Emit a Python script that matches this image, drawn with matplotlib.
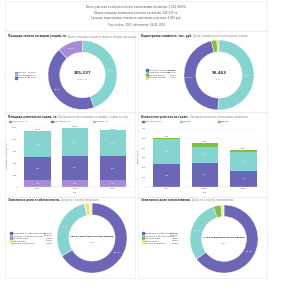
import matplotlib
matplotlib.use("Agg")
import matplotlib.pyplot as plt
import numpy as np
from matplotlib.patches import Rectangle

W, H = 295, 300

# colours
TEAL = "#85d4d0"
PURPLE = "#6b66b6"
LILAC = "#a88bd5"
GREEN = "#7fbf4c"
YELLOW = "#efe27c"
PALE = "#f6f0c4"

# header
header_lines = [
    "Всего участков в собственности и пользовании хозяйства: 1 234 (100%)",
    "Общая площадь земельных участков хозяйства: 205,237 га",
    "Средняя кадастровая стоимость земельных участков: 4 453 руб.",
    "Год отчёта: 2023, обновлено: 28.02.2024",
]

# donut 1
d1_title = "Площадь земель по видам угодий, га."
d1_sub = "Доля площади каждого вида в общей площади"
d1_labels = ["Пашня", "Пастбища", "Сенокосы"]
d1_values = [44.6, 43.4, 12.0]
d1_total = "205,237"

# donut 2
d2_title = "Кадастровая стоимость, тыс. руб."
d2_sub = "Доля стоимости по категориям земель"
d2_labels = ["Сельхоз. назначения", "Земли поселений", "Лесной фонд", "Прочие земли"]
d2_values = [50.5, 46.0, 2.5, 1.0]
d2_total = "95,463"

# bars 1
b1_title = "Площадь участков по годам, га."
b1_sub = "Распределение площади по видам угодий за год"
b1_legend = ["Сенокосы, га", "Пастбища, га", "Пашня, га"]
years = ["2021", "2022", "2023"]
b1_lilac = [148, 148, 148]
b1_purple = [480, 501, 494]
b1_teal = [544, 586, 544]

# bars 2
b2_title = "Количество участков по годам."
b2_sub = "Распределение по категориям владения"
b2_legend = ["Собственность", "Аренда", "Прочее"]
b2_purple = [240, 250, 170]
b2_teal = [255, 165, 195]
b2_green = [15, 40, 20]

# donut 3
d3_title = "Земельные доли в собственности."
d3_sub = "Доля по способу владения"
d3_labels = ["Владение в собственности", "Аренда у собственников",
             "Пользование", "Субаренда", "Прочее владение"]
d3_values = [66.4, 30.0, 0.3, 2.0, 1.3]
d3_total = "735,51 земледельческих единиц"

# donut 4
d4_title = "Земельные доли в пользовании."
d4_sub = "Доля по способу пользования"
d4_labels = ["Владение в собственности", "Аренда у собственников",
             "Пользование", "Субаренда", "Прочее владение"]
d4_values = [65.0, 30.0, 3.5, 1.0, 0.5]
d4_total = "4 453 земледельческих единиц"

fig = plt.figure(figsize=(W / 100, H / 100), dpi=100)
fig.patch.set_facecolor("white")
renderer = fig.canvas.get_renderer()


def fx(x):
    return x / W


def fy(y):
    return 1 - y / H


def rect(x0, y0, x1, y1):
    return [x0 / W, 1 - y1 / H, (x1 - x0) / W, (y1 - y0) / H]


def panel(x0, y0, x1, y1):
    fig.patches.append(Rectangle((fx(x0), fy(y1)), (x1 - x0) / W, (y1 - y0) / H,
                                 transform=fig.transFigure, fill=False,
                                 edgecolor="#ececec", linewidth=0.5))


def title(x, y, bold, rest):
    t = fig.text(fx(x), fy(y), bold, fontsize=1.9, fontweight="bold", color="#333333", va="center")
    w = t.get_window_extent(renderer).width
    fig.text(fx(x + w + 1), fy(y), rest, fontsize=1.9, color="#888888", va="center")


def donut(cx, cy, r, values, colors, total, sub, big=2.8):
    ax = fig.add_axes(rect(cx - r, cy - r, cx + r, cy + r))
    wedges, _ = ax.pie(values, colors=colors, startangle=90, counterclock=False,
                       radius=1.0, wedgeprops=dict(width=0.34, edgecolor="white", linewidth=0.3))
    ax.set_xlim(-1, 1)
    ax.set_ylim(-1, 1)
    ax.set_aspect("equal")
    ax.axis("off")
    for w, v in zip(wedges, values):
        if v < 5:
            continue
        ang = np.deg2rad((w.theta1 + w.theta2) / 2)
        ax.text(0.83 * np.cos(ang), 0.83 * np.sin(ang), f"{v:.1f}%",
                fontsize=1.7, color="white", ha="center", va="center")
    ax.text(0, 0.05, total, fontsize=big, fontweight="bold", color="#333333", ha="center", va="center")
    ax.text(0, -0.12, sub, fontsize=1.5, color="#888888", ha="center", va="center")


def legend(x, y, labels, values, colors, valx, dy=2.6, fs=1.7):
    for i, (lab, v, c) in enumerate(zip(labels, values, colors)):
        yy = y + i * dy
        fig.patches.append(Rectangle((fx(x), fy(yy + 0.8)), 1.6 / W, 1.6 / H,
                                     transform=fig.transFigure, color=c))
        fig.text(fx(x + 2.5), fy(yy), lab, fontsize=fs, color="#444444", va="center")
        fig.text(fx(valx), fy(yy), f"{v:.2f}%", fontsize=fs, color="#444444", va="center", ha="right")


def bars(x0, y0, x1, y1, stacks, ymax, step, ylabel):
    ax = fig.add_axes(rect(x0, y0, x1, y1))
    x = np.arange(len(years))
    bottom = np.zeros(len(years))
    for vals, c in stacks:
        vals = np.array(vals, dtype=float)
        ax.bar(x, vals, 0.7, bottom=bottom, color=c, linewidth=0)
        for xi, b, v in zip(x, bottom, vals):
            if v > ymax * 0.08:
                ax.text(xi, b + v / 2, f"{int(v)}", fontsize=1.5, color="white", ha="center", va="center")
        bottom = bottom + vals
    for xi, t in zip(x, bottom):
        ax.text(xi, t + ymax * 0.015, f"{int(t):,}", fontsize=1.5, color="#555555", ha="center", va="bottom")
    ax.set_xlim(-0.5, 2.5)
    ax.set_ylim(0, ymax)
    ticks = np.arange(0, ymax, step)
    ax.set_yticks(ticks)
    ax.set_yticklabels([f"{int(t):,}" for t in ticks])
    ax.set_xticks(x)
    ax.set_xticklabels(years)
    ax.tick_params(labelsize=1.6, length=0, pad=1, colors="#666666")
    ax.grid(axis="y", color="#f2f2f2", linewidth=0.3)
    ax.set_axisbelow(True)
    for s in ax.spines.values():
        s.set_visible(False)
    ax.spines["bottom"].set_visible(True)
    ax.spines["bottom"].set_color("#dddddd")
    ax.spines["bottom"].set_linewidth(0.3)
    ax.set_xlabel("Год", fontsize=1.6, color="#666666", labelpad=1.5)
    ax.set_ylabel(ylabel, fontsize=1.6, color="#666666", labelpad=2)
    return ax


def bar_legend(x, y, labels, colors, gap):
    for i, (lab, c) in enumerate(zip(labels, colors)):
        xx = x + i * gap
        fig.patches.append(Rectangle((fx(xx), fy(y + 0.8)), 1.6 / W, 1.6 / H,
                                     transform=fig.transFigure, color=c))
        fig.text(fx(xx + 2.5), fy(y), lab, fontsize=1.6, color="#555555", va="center")


# panels
panel(5, 1, 267, 31)
panel(5, 31, 135, 112)
panel(138, 31, 267, 112)
panel(5, 112, 135, 197)
panel(138, 112, 267, 197)
panel(5, 197, 135, 278)
panel(138, 197, 267, 278)

# header
for i, line in enumerate(header_lines):
    fig.text(fx(136), fy(7 + i * 5.7), line, fontsize=1.9, color="#555555", ha="center", va="center")

# row 1
title(8, 36, d1_title, d1_sub)
donut(82.5, 75, 34.5, d1_values, [TEAL, PURPLE, LILAC], d1_total, "Итого, га")
legend(15, 72.5, d1_labels, d1_values, [LILAC, TEAL, PURPLE], 37)

title(141, 36, d2_title, d2_sub)
donut(219, 75, 35, d2_values, [TEAL, PURPLE, GREEN, YELLOW], d2_total, "Итого")
legend(146, 70, d2_labels, d2_values, [PURPLE, TEAL, GREEN, YELLOW], 177)

# row 2
title(8, 117, b1_title, b1_sub)
bar_legend(9, 121.5, b1_legend, [LILAC, PURPLE, TEAL], 42)
bars(18.7, 125, 131.8, 187, [(b1_lilac, LILAC), (b1_purple, PURPLE), (b1_teal, TEAL)],
     1300, 250, "Площадь участков, га")

title(141, 117, b2_title, b2_sub)
bar_legend(142, 121.5, b2_legend, [PURPLE, TEAL, GREEN], 38)
bars(147.5, 126, 262.5, 187, [(b2_purple, PURPLE), (b2_teal, TEAL), (b2_green, GREEN)],
     630, 100, "Количество")

# row 3
title(8, 200, d3_title, d3_sub)
donut(92, 238, 35, d3_values, [PURPLE, TEAL, LILAC, YELLOW, PALE], d3_total, "Итого", big=1.6)
legend(10, 233, d3_labels, d3_values, [PURPLE, TEAL, LILAC, YELLOW, PALE], 53)

title(141, 200, d4_title, d4_sub)
donut(224, 239, 34, d4_values, [PURPLE, TEAL, GREEN, YELLOW, PALE], d4_total, "Итого", big=1.6)
legend(142, 233, d4_labels, d4_values, [PURPLE, TEAL, GREEN, YELLOW, PALE], 179)

fig.savefig("out.png", dpi=100, facecolor="white")
